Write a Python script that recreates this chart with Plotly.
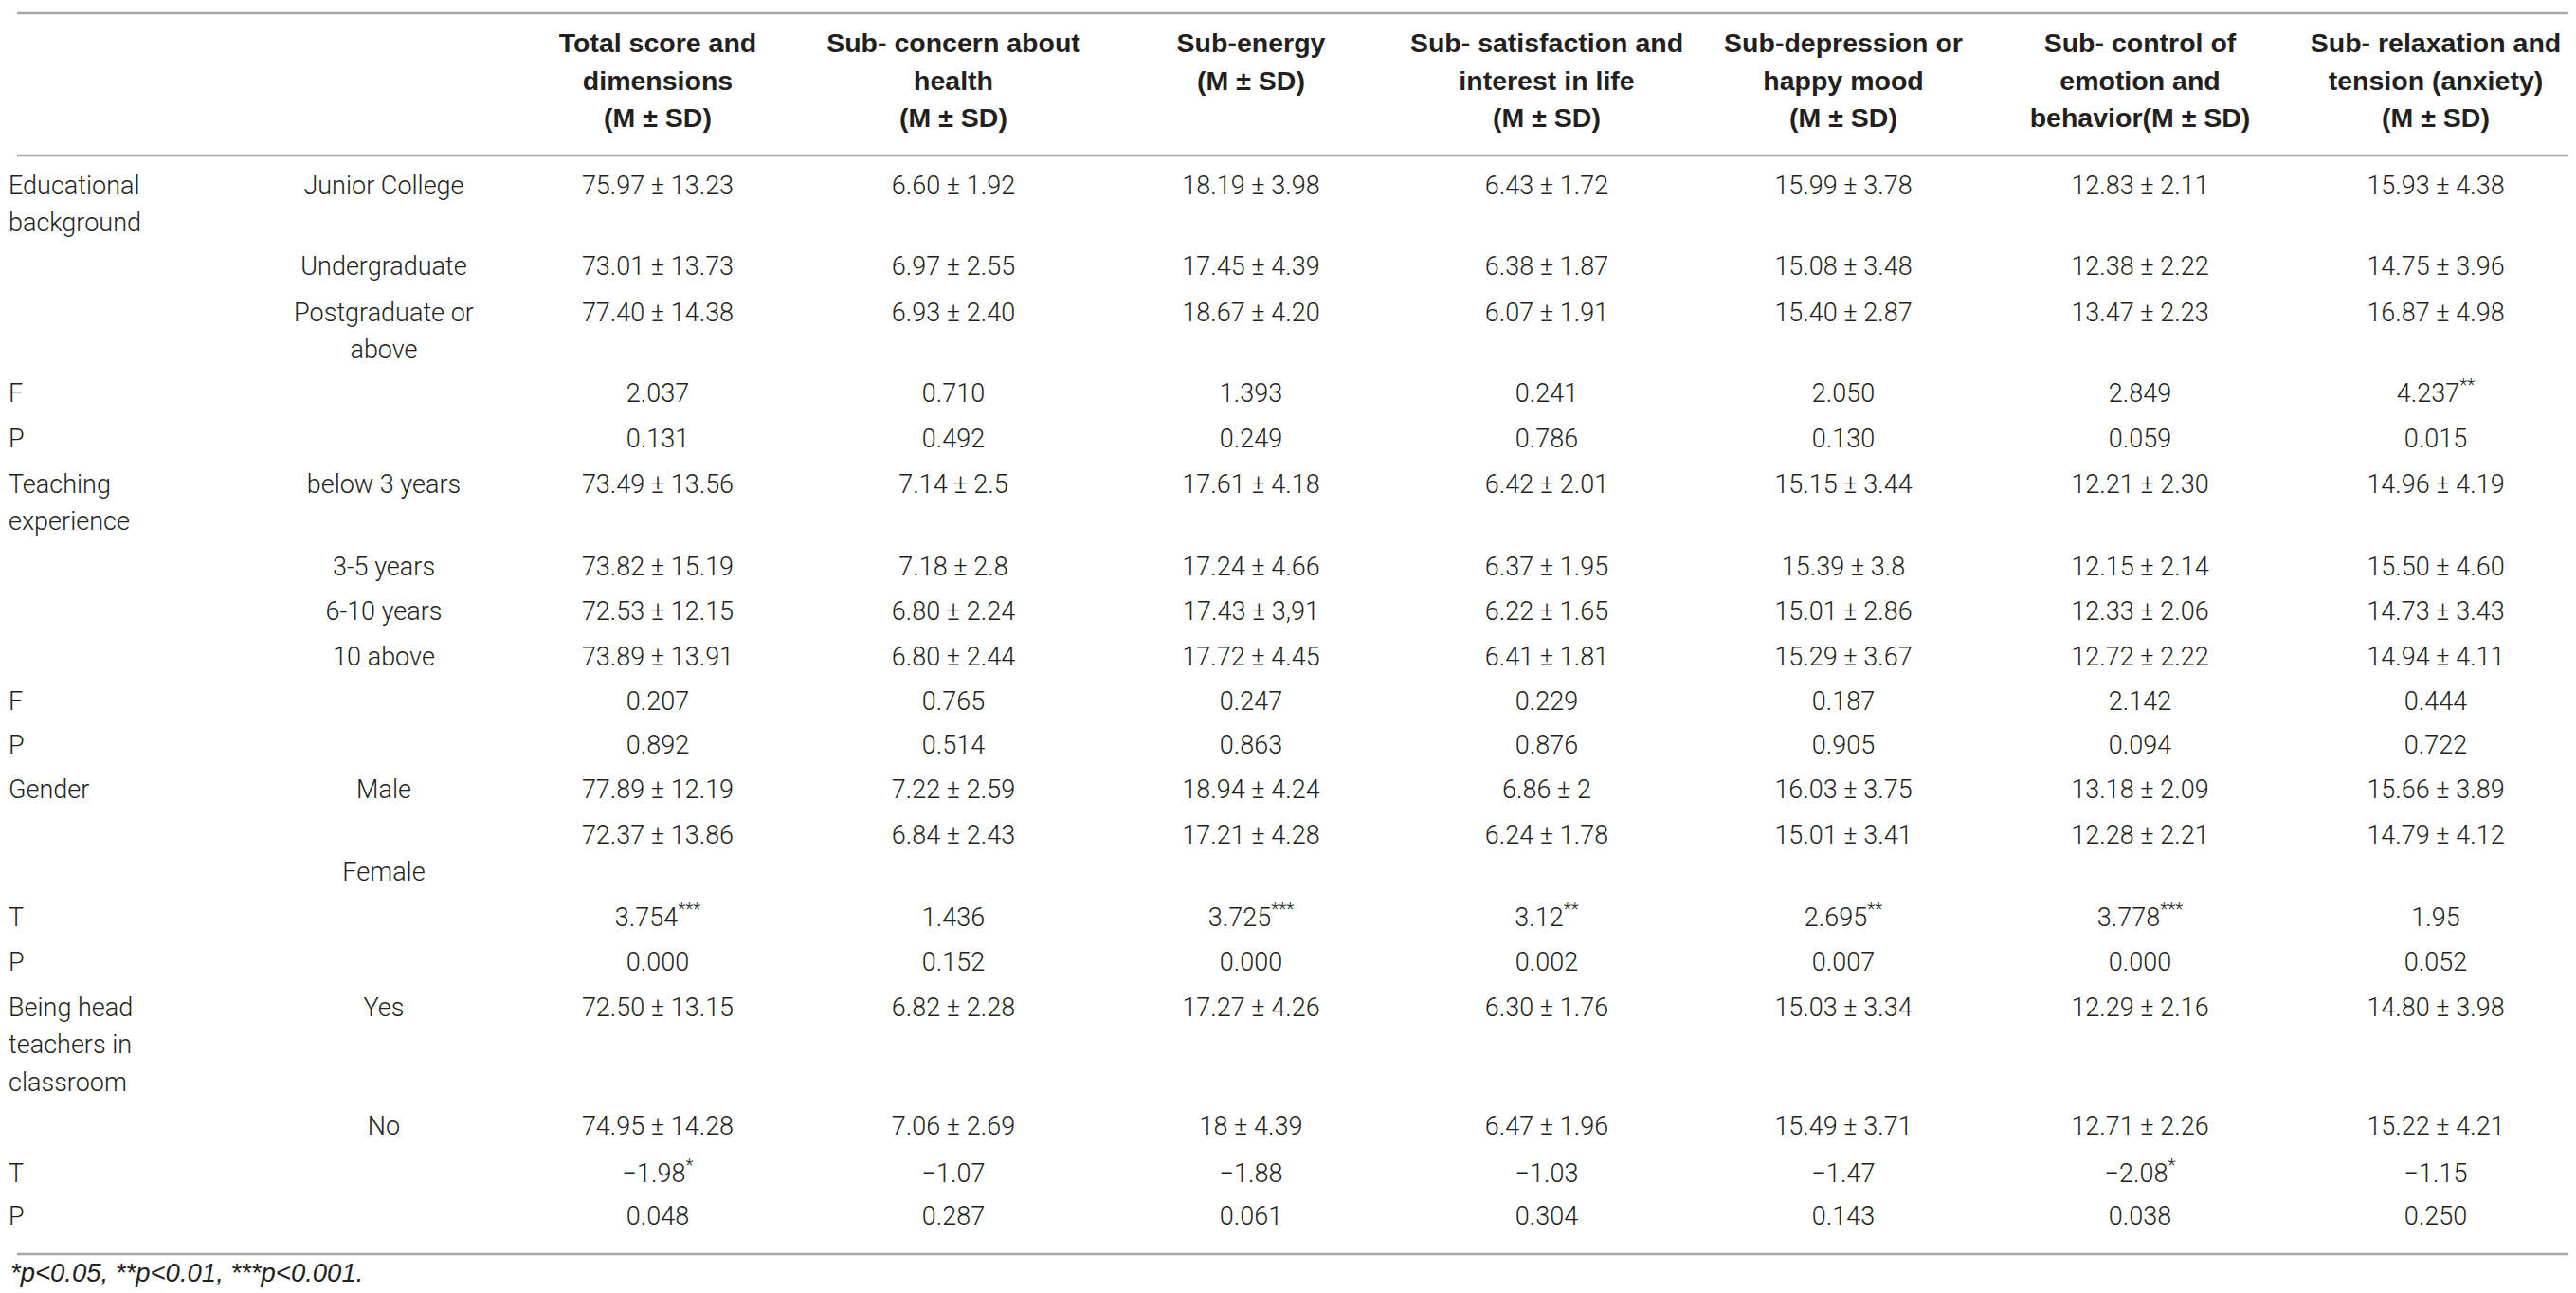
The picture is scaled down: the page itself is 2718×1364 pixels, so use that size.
import plotly.graph_objects as go

# ---- table content ----
headers = [
    "Total score and\ndimensions\n(M ± SD)",
    "Sub- concern about\nhealth\n(M ± SD)",
    "Sub-energy\n(M ± SD)",
    "Sub- satisfaction and\ninterest in life\n(M ± SD)",
    "Sub-depression or\nhappy mood\n(M ± SD)",
    "Sub- control of\nemotion and\nbehavior(M ± SD)",
    "Sub- relaxation and\ntension (anxiety)\n(M ± SD)",
]

row_labels = [
    "Educational\nbackground", "", "", "F", "P",
    "Teaching\nexperience", "", "", "", "F", "P",
    "Gender", "", "T", "P",
    "Being head\nteachers in\nclassroom", "", "T", "P",
]

group_labels = [
    "Junior College", "Undergraduate", "Postgraduate or\nabove", "", "",
    "below 3 years", "3-5 years", "6-10 years", "10 above", "", "",
    "Male", "\nFemale", "", "",
    "Yes", "No", "", "",
]

total_score = [
    "75.97 ± 13.23", "73.01 ± 13.73", "77.40 ± 14.38", "2.037", "0.131",
    "73.49 ± 13.56", "73.82 ± 15.19", "72.53 ± 12.15", "73.89 ± 13.91", "0.207", "0.892",
    "77.89 ± 12.19", "72.37 ± 13.86", "3.754<sup>***</sup>", "0.000",
    "72.50 ± 13.15", "74.95 ± 14.28", "−1.98<sup>*</sup>", "0.048",
]
concern_health = [
    "6.60 ± 1.92", "6.97 ± 2.55", "6.93 ± 2.40", "0.710", "0.492",
    "7.14 ± 2.5", "7.18 ± 2.8", "6.80 ± 2.24", "6.80 ± 2.44", "0.765", "0.514",
    "7.22 ± 2.59", "6.84 ± 2.43", "1.436", "0.152",
    "6.82 ± 2.28", "7.06 ± 2.69", "−1.07", "0.287",
]
energy = [
    "18.19 ± 3.98", "17.45 ± 4.39", "18.67 ± 4.20", "1.393", "0.249",
    "17.61 ± 4.18", "17.24 ± 4.66", "17.43 ± 3,91", "17.72 ± 4.45", "0.247", "0.863",
    "18.94 ± 4.24", "17.21 ± 4.28", "3.725<sup>***</sup>", "0.000",
    "17.27 ± 4.26", "18 ± 4.39", "−1.88", "0.061",
]
satisfaction = [
    "6.43 ± 1.72", "6.38 ± 1.87", "6.07 ± 1.91", "0.241", "0.786",
    "6.42 ± 2.01", "6.37 ± 1.95", "6.22 ± 1.65", "6.41 ± 1.81", "0.229", "0.876",
    "6.86 ± 2", "6.24 ± 1.78", "3.12<sup>**</sup>", "0.002",
    "6.30 ± 1.76", "6.47 ± 1.96", "−1.03", "0.304",
]
depression = [
    "15.99 ± 3.78", "15.08 ± 3.48", "15.40 ± 2.87", "2.050", "0.130",
    "15.15 ± 3.44", "15.39 ± 3.8", "15.01 ± 2.86", "15.29 ± 3.67", "0.187", "0.905",
    "16.03 ± 3.75", "15.01 ± 3.41", "2.695<sup>**</sup>", "0.007",
    "15.03 ± 3.34", "15.49 ± 3.71", "−1.47", "0.143",
]
control = [
    "12.83 ± 2.11", "12.38 ± 2.22", "13.47 ± 2.23", "2.849", "0.059",
    "12.21 ± 2.30", "12.15 ± 2.14", "12.33 ± 2.06", "12.72 ± 2.22", "2.142", "0.094",
    "13.18 ± 2.09", "12.28 ± 2.21", "3.778<sup>***</sup>", "0.000",
    "12.29 ± 2.16", "12.71 ± 2.26", "−2.08<sup>*</sup>", "0.038",
]
relaxation = [
    "15.93 ± 4.38", "14.75 ± 3.96", "16.87 ± 4.98", "4.237<sup>**</sup>", "0.015",
    "14.96 ± 4.19", "15.50 ± 4.60", "14.73 ± 3.43", "14.94 ± 4.11", "0.444", "0.722",
    "15.66 ± 3.89", "14.79 ± 4.12", "1.95", "0.052",
    "14.80 ± 3.98", "15.22 ± 4.21", "−1.15", "0.250",
]

footnote = "<i>*p&lt;0.05, **p&lt;0.01, ***p&lt;0.001.</i>"

columns = [total_score, concern_health, energy, satisfaction, depression, control, relaxation]

# ---- layout constants (pixels) ----
W, H = 2718, 1364
LEFT, RIGHT = 10, 2713
LABEL_X = 1
GROUP_X = 397
COL_X = [686, 998, 1312, 1624, 1937, 2250, 2562]
HEAD_Y = 40
LINE_H = 39.5
ROW_Y = [190, 275, 324, 409, 457, 505, 592, 639, 687, 734, 780,
         827, 875, 962, 1009, 1057, 1182, 1232, 1277]
RULES_Y = [6, 156, 1315]
FOOT_Y = 1337

BODY_FONT = "Roboto, 'Liberation Sans', Arial, sans-serif"
HEAD_FONT = "'Liberation Sans', Arial, sans-serif"
INK = "#231f20"


def spread(x, y, label):
    xs, ys, ts = [], [], []
    for k, part in enumerate(label.split("\n")):
        if part:
            xs.append(x)
            ys.append(y + k * LINE_H)
            ts.append(part)
    return xs, ys, ts


def text_trace(xs, ys, ts, pos, family=BODY_FONT, size=27, weight=300):
    return go.Scatter(x=xs, y=ys, text=ts, mode="text", textposition=pos,
                      textfont=dict(family=family, size=size, color=INK, weight=weight),
                      hoverinfo="skip", showlegend=False)


fig = go.Figure()

# headers
hx, hy, ht = [], [], []
for x, h in zip(COL_X, headers):
    a, b, c = spread(x, HEAD_Y, h)
    hx += a; hy += b; ht += c
fig.add_trace(text_trace(hx, hy, ht, "middle center", family=HEAD_FONT, size=28.5, weight=700))

# row labels
lx, ly, lt = [], [], []
for y, lab in zip(ROW_Y, row_labels):
    a, b, c = spread(LABEL_X, y, lab)
    lx += a; ly += b; lt += c
fig.add_trace(text_trace(lx, ly, lt, "middle right"))

# sub-group labels
gx, gy, gt = [], [], []
for y, lab in zip(ROW_Y, group_labels):
    a, b, c = spread(GROUP_X, y, lab)
    gx += a; gy += b; gt += c
fig.add_trace(text_trace(gx, gy, gt, "middle center"))

# values
for x, col in zip(COL_X, columns):
    fig.add_trace(text_trace([x] * len(col), ROW_Y, col, "middle center"))

# footnote
fig.add_trace(text_trace([LABEL_X + 2], [FOOT_Y], [footnote], "middle right",
                         family=HEAD_FONT, size=27.5, weight=400))

for y in RULES_Y:
    fig.add_shape(type="line", xref="x", yref="y", x0=LEFT, x1=RIGHT, y0=y, y1=y,
                  line=dict(color="#a7a7a7", width=2.5))

fig.update_layout(
    width=W, height=H, autosize=False,
    margin=dict(l=0, r=0, t=0, b=0),
    paper_bgcolor="white", plot_bgcolor="white",
    xaxis=dict(range=[0, W], visible=False, fixedrange=True),
    yaxis=dict(range=[H, 0], visible=False, fixedrange=True),
)

fig.write_html("out.html")
